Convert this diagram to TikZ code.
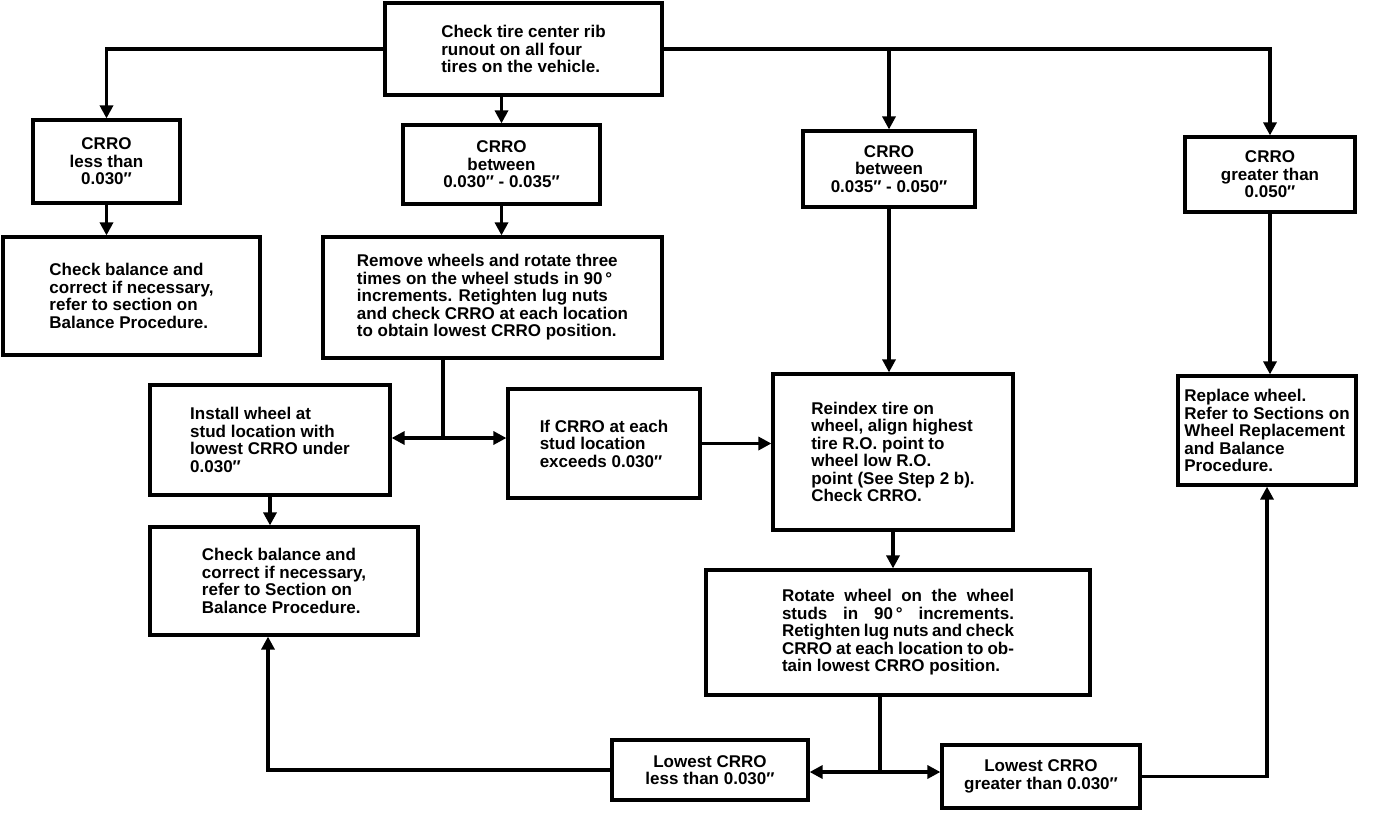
\documentclass[tikz,border=0pt]{standalone}
\usepackage{fontspec}
\setmainfont{Liberation Sans}
\usetikzlibrary{calc,arrows.meta}
\tikzset{
  box/.style={draw, line width=3.2pt, align=left, inner sep=4pt, font=\fontsize{17}{17.5}\selectfont\bfseries},
  boxc/.style={box, align=center},
  flow/.style={line width=3.2pt, -{Triangle[length=13pt,width=13pt]}},
  link/.style={line width=3.2pt},
}
\newcommand{\fillline}[1]{\makebox[232pt][s]{#1}}

\begin{document}
\begin{tikzpicture}[x=1pt,y=-1pt]
  \useasboundingbox (0,0) rectangle (1376,812);

  % start
  \node[box, minimum width=277pt, minimum height=92pt] (top) at (523.5,49)
    {Check tire center rib\\runout on all four\\tires on the vehicle.};

  % four CRRO ranges
  \node[boxc, minimum width=147pt, minimum height=83pt] (lt30) at (106.5,161.5) {CRRO\\less than\\0.030″};
  \node[boxc, minimum width=197pt, minimum height=79pt] (bt3035) at (501.5,164.5) {CRRO\\between\\0.030″ - 0.035″};
  \node[boxc, minimum width=172pt, minimum height=76pt] (bt3550) at (889,169) {CRRO\\between\\0.035″ - 0.050″};
  \node[boxc, minimum width=170pt, minimum height=75pt] (gt50) at (1270,174.5) {CRRO\\greater than\\0.050″};

  % second row
  \node[box, minimum width=257pt, minimum height=118pt] (bal1) at (131.5,296)
    {Check balance and\\correct if necessary,\\refer to section on\\Balance Procedure.};
  \node[box, minimum width=339pt, minimum height=121pt] (rot3) at (492.5,297.5)
    {Remove wheels and rotate three\\times on the wheel studs in 90\,°\\increments. Retighten lug nuts\\and check CRRO at each location\\to obtain lowest CRRO position.};

  % third row
  \node[box, minimum width=240pt, minimum height=110pt] (inst) at (270,440)
    {Install wheel at\\stud location with\\lowest CRRO under\\0.030″};
  \node[box, minimum width=192pt, minimum height=109pt] (exc) at (604,443.5)
    {If CRRO at each\\stud location\\exceeds 0.030″};
  \node[box, minimum width=240pt, minimum height=156pt] (reidx) at (893,452)
    {Reindex tire on\\wheel, align highest\\tire R.O. point to\\wheel low R.O.\\point (See Step 2 b).\\Check CRRO.};
  \node[box, inner sep=3pt, minimum width=178pt, minimum height=109pt] (repl) at (1267,430.5)
    {Replace wheel.\\Refer to Sections on\\Wheel Replacement\\and Balance\\Procedure.};

  % fourth row
  \node[box, minimum width=268pt, minimum height=108pt] (bal2) at (284,581)
    {Check balance and\\correct if necessary,\\refer to Section on\\Balance Procedure.};
  \node[box, minimum width=384pt, minimum height=125pt] (rot1) at (898,632.5)
    {\fillline{Rotate wheel on the wheel}\\\fillline{studs in 90\,° increments.}\\\fillline{Retighten lug nuts and check}\\\fillline{CRRO at each location to ob-}\\tain lowest CRRO position.};

  % results
  \node[boxc, minimum width=196pt, minimum height=60pt] (lowlt) at (710,770) {Lowest CRRO\\less than 0.030″};
  \node[boxc, minimum width=198pt, minimum height=63pt] (lowgt) at (1041,776.5) {Lowest CRRO\\greater than 0.030″};

  % branch points
  \coordinate (split1) at (443,438);
  \coordinate (split2) at (880,772);

  \draw[flow] (top.west) -| (lt30.north);
  \draw[flow] (bt3035.north |- top.south) -- (bt3035.north);
  \draw[flow] (top.east) -| (bt3550.north);
  \draw[flow] (bt3550.north |- top.east) -| (gt50.north);

  \draw[flow] (lt30.south) -- (lt30.south |- bal1.north);
  \draw[flow] (bt3035.south) -- (bt3035.south |- rot3.north);
  \draw[flow] (bt3550.south) -- (bt3550.south |- reidx.north);
  \draw[flow] (gt50.south) -- (gt50.south |- repl.north);

  \draw[link] (rot3.south -| split1) -- (split1);
  \draw[flow] (split1) -- (split1 -| inst.east);
  \draw[flow] (split1) -- (split1 -| exc.west);
  \draw[flow] (exc.east) -- (exc.east -| reidx.west);

  \draw[flow] (inst.south) -- (inst.south |- bal2.north);
  \draw[flow] (reidx.south) -- (reidx.south |- rot1.north);

  \draw[link] (rot1.south -| split2) -- (split2);
  \draw[flow] (split2) -- (split2 -| lowlt.east);
  \draw[flow] (split2) -- (split2 -| lowgt.west);

  \draw[flow] (lowlt.west) -| ([xshift=-16pt]bal2.south);
  \draw[flow] (lowgt.east) -| (repl.south);
\end{tikzpicture}
\end{document}
